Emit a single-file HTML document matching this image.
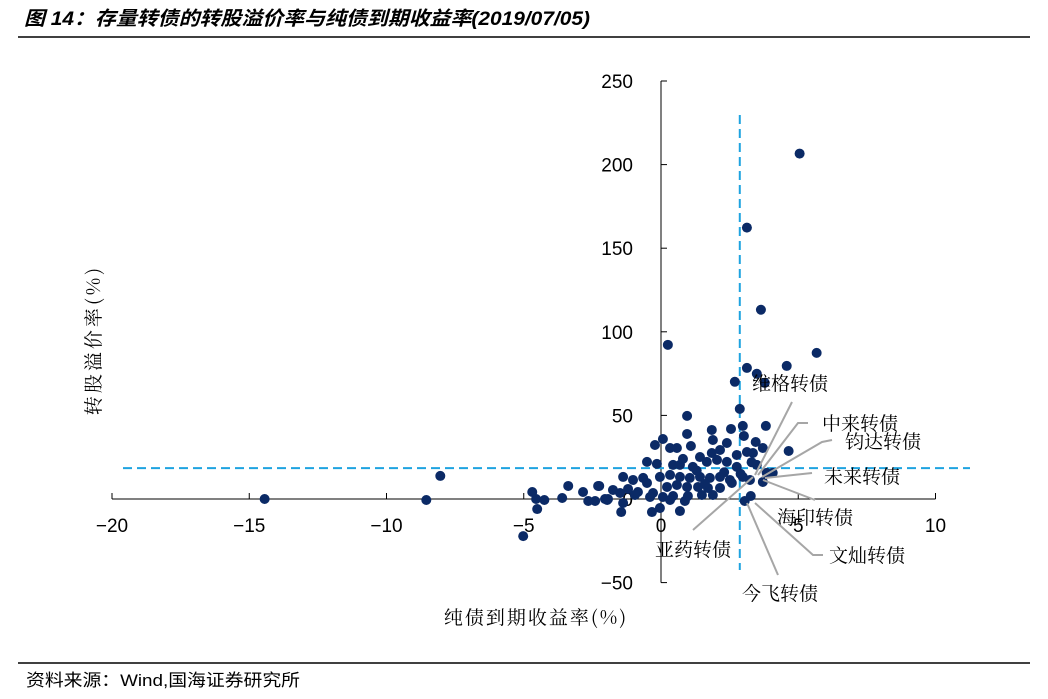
<!DOCTYPE html>
<html><head><meta charset="utf-8"><style>
body{margin:0;background:#fff;width:1048px;height:694px;overflow:hidden;font-family:"Liberation Sans","Noto Sans CJK SC",sans-serif}
</style></head><body>
<svg width="1048" height="694" xmlns="http://www.w3.org/2000/svg">
<text x="24" y="25" font-size="19.5" font-weight="bold" font-style="italic" textLength="566" lengthAdjust="spacingAndGlyphs" font-family="'Liberation Sans','Noto Sans CJK SC',sans-serif">图 14：存量转债的转股溢价率与纯债到期收益率(2019/07/05)</text>
<line x1="18" y1="37" x2="1030" y2="37" stroke="#000" stroke-width="1.5"/>
<line x1="18" y1="663" x2="1030" y2="663" stroke="#000" stroke-width="1.5"/>
<text x="26" y="686" font-size="17" textLength="274" lengthAdjust="spacingAndGlyphs" font-family="'Liberation Sans','Noto Sans CJK SC',sans-serif">资料来源：Wind,国海证券研究所</text>
<g id="axes"></g><g id="refs"></g><g id="dots"></g><g id="labels"></g>
<text transform="translate(100,340) rotate(-90)" text-anchor="middle" font-size="19" font-family="'Noto Serif CJK SC',serif" letter-spacing="3">转股溢价率(%)</text>
<text x="536" y="624" text-anchor="middle" font-size="19" font-family="'Noto Serif CJK SC',serif" letter-spacing="2">纯债到期收益率(%)</text>
</svg>
<script>
const xTicks=[-20,-15,-10,-5,0,5,10];
const yTicks=[-50,0,50,100,150,200,250];
const refX=2.87, refY=18.5;
const xs=[5.05,3.13,3.64,0.25,5.67,4.58,3.13,3.49,2.69,3.78,2.87,0.95,3.82,2.98,2.55,1.85,0.95,3.02,0.07,3.45,-0.22,1.89,1.09,0.33,0.58,2.4,3.71,4.65,1.42,1.85,2.15,2.76,3.13,3.35,-0.51,-0.15,0.44,0.69,1.16,1.67,2.04,2.4,2.76,3.49,3.85,4.07,-1.38,-1.02,-0.65,-0.04,0.33,0.69,1.05,1.42,1.78,2.15,2.51,2.98,3.24,3.71,-2.25,-1.75,-1.2,-0.84,-0.51,-0.29,0.22,0.58,0.95,1.35,1.71,2.15,2.58,-2.84,-2.4,-1.96,-1.49,-0.95,-0.4,0.07,0.44,0.98,1.49,1.89,-1.38,0.33,0.87,-0.04,-0.33,-1.45,0.69,3.27,3.05,-8.04,-8.55,-4.69,-4.55,-4.25,-4.51,-5.02,-3.6,-3.38,-2.65,-2.29,-2.04,-1.93,-14.44,1.3,2.3,1.6,0.8,2.9,3.3];
const ys=[206.6,162.3,113.2,92.2,87.4,79.6,78.4,74.9,70.1,69.5,53.9,49.7,43.7,43.7,41.9,41.3,38.9,37.7,35.9,34.1,32.3,35.3,31.7,30.5,30.5,33.5,30.5,28.7,25.1,27.5,29.3,26.3,28.1,27.5,22.2,21.0,20.4,20.4,19.2,22.2,23.4,22.2,19.2,20.4,15.6,15.6,13.2,11.4,12.6,13.2,14.4,13.2,12.6,13.2,12.6,13.2,11.4,13.2,11.4,10.2,7.8,5.4,6.0,4.2,9.6,3.6,7.2,8.4,7.2,7.2,6.6,6.6,9.6,4.2,-1.2,-0.6,3.6,2.4,1.2,1.2,1.8,1.8,2.4,2.4,-2.4,-0.6,-1.2,-5.4,-7.8,-7.8,-7.2,1.8,-1.2,13.8,-0.6,4.2,0,-0.6,-6.0,-22.2,0.6,7.8,-1.2,7.8,0,0,0,17,16,9,24,15,22];
const labelNames=["维格转债","中来转债","钧达转债","未来转债","海印转债","文灿转债","今飞转债","亚药转债"];
const X=v=>661+v*27.45, Y=v=>499-v*1.672;
const NS="http://www.w3.org/2000/svg";
function mk(p,t,a){const e=document.createElementNS(NS,t);for(const k in a)e.setAttribute(k,a[k]);p.appendChild(e);return e;}
const ax=document.getElementById('axes');
let l=mk(ax,'line',{x1:X(-20),y1:Y(0),x2:X(10),y2:Y(0),stroke:'#000','stroke-width':1});


l=mk(ax,'line',{x1:X(0),y1:Y(-50),x2:X(0),y2:Y(250),stroke:'#000','stroke-width':1});


xTicks.forEach(v=>{
 const t=mk(ax,'line',{x1:X(v),y1:Y(0),x2:X(v),y2:Y(0)-6,stroke:'#000'});
 
 
 const s=mk(ax,'text',{x:X(v),y:532,'text-anchor':'middle','font-size':19});
 s.textContent=v<0?'\u2212'+(-v):String(v);
 
 
});
yTicks.forEach(v=>{
 const t=mk(ax,'line',{x1:X(0),y1:Y(v),x2:X(0)+6,y2:Y(v),stroke:'#000'});
 
 
 const s=mk(ax,'text',{x:633,y:Y(v)+7,'text-anchor':'end','font-size':19});
 s.textContent=v<0?'\u2212'+(-v):String(v);
 
 
});
const rf=document.getElementById('refs');
l=mk(rf,'line',{x1:X(refX),y1:115,x2:X(refX),y2:570,stroke:'#1ea3e0','stroke-width':2,'stroke-dasharray':'9,5'});


l=mk(rf,'line',{x1:123,y1:Y(refY),x2:970,y2:Y(refY),stroke:'#1ea3e0','stroke-width':2,'stroke-dasharray':'9,5'});


const dg=document.getElementById('dots');
xs.forEach((v,i)=>{
 const c=mk(dg,'circle',{cx:X(v),cy:Y(ys[i]),r:5,fill:'#0b2a66'});
 
 
});
const lg=document.getElementById('labels');
const lines=[[792,402,755,475],[808,423,798,423,758,475],[832,440,822,442,762,477],[812,473,765,478],[815,500,763,480],[823,555,813,555,755,503],[778,575,747,503],[693,530,753,477]];
const pos=[[790,390],[860,430],[883,448],[862,483],[815,524],[867,562],[780,600],[693,556]];
lines.forEach((p,i)=>{
 let pts=[];for(let k=0;k<p.length;k+=2)pts.push(p[k]+','+p[k+1]);
 const pl=mk(lg,'polyline',{points:pts.join(' '),fill:'none',stroke:'#a6a6a6','stroke-width':2});
 
 
 const t=mk(lg,'text',{x:pos[i][0],y:pos[i][1],'text-anchor':'middle','font-size':19,'font-family':"'Noto Serif CJK SC',serif"});
 t.textContent=labelNames[i];
 
 
});
</script>
</body></html>
